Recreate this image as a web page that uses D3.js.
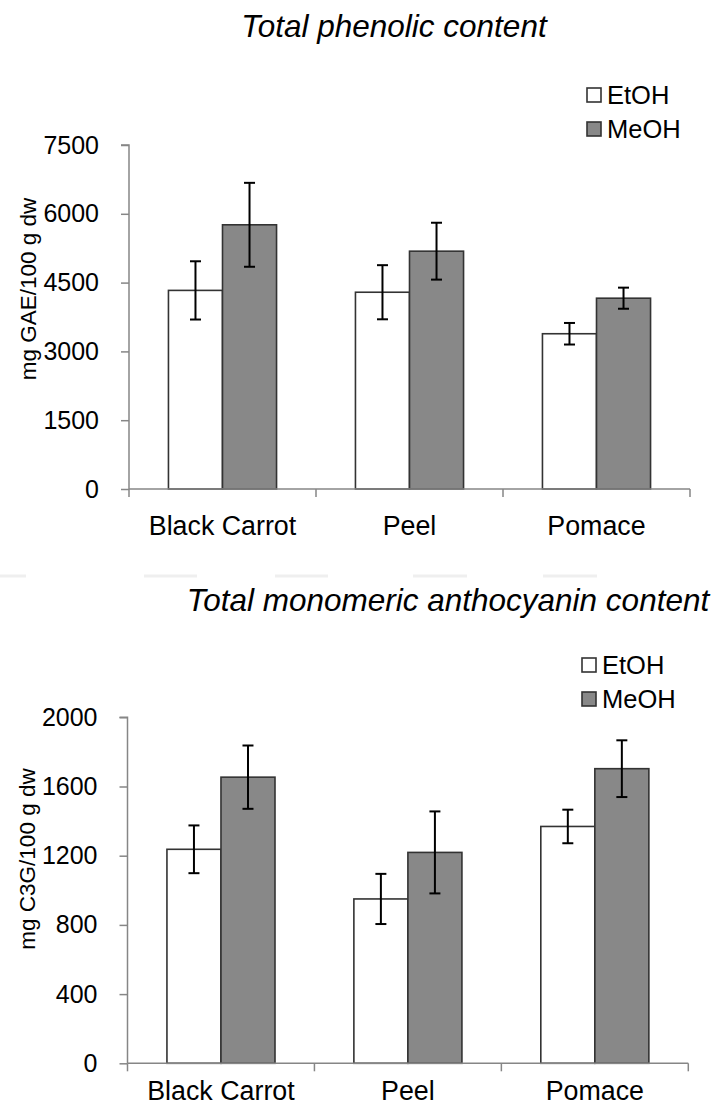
<!DOCTYPE html>
<html>
<head>
<meta charset="utf-8">
<script src="https://cdn.jsdelivr.net/npm/d3@7"></script>
<style>
  html, body { margin: 0; padding: 0; background: #fff; }
  svg { display: block; }
  text { font-family: "Liberation Sans", Arial, sans-serif; fill: #000; }
</style>
</head>
<body>
<svg id="chart" width="711" height="1108"></svg>
<script>
// ---- Data ----
const categories = ["Black Carrot", "Peel", "Pomace"];
const seriesNames = ["EtOH", "MeOH"];

// Total phenolic content (mg GAE/100 g dw)
const phenolicEtOH = [4330, 4290, 3385];
const phenolicMeOH = [5760, 5185, 4160];
const phenolicEtOHErr = [635, 590, 235];
const phenolicMeOHErr = [915, 620, 230];
const phenolicTicks = [0, 1500, 3000, 4500, 6000, 7500];

// Total monomeric anthocyanin content (mg C3G/100 g dw)
const anthoEtOH = [1237, 950, 1369];
const anthoMeOH = [1654, 1219, 1703];
const anthoEtOHErr = [138, 145, 97];
const anthoMeOHErr = [183, 237, 164];
const anthoTicks = [0, 400, 800, 1200, 1600, 2000];

const titles = ["Total phenolic content", "Total monomeric anthocyanin content"];
const yLabels = ["mg GAE/100 g dw", "mg C3G/100 g dw"];

// ---- Styles ----
const fills = { EtOH: "#ffffff", MeOH: "#888888" };
const axisColor = "#868686";
const barStroke = "#333333";

const svg = d3.select("#chart");

// faint separator segments between the two panels
const sepSegs = [[0, 26], [144, 197], [275, 328], [413, 467], [543, 597]];
svg.selectAll("line.sep").data(sepSegs).enter().append("line")
  .attr("x1", d => d[0]).attr("x2", d => d[1])
  .attr("y1", 576).attr("y2", 576)
  .attr("stroke", "#efefef").attr("stroke-width", 3);

function drawPanel(cfg) {
  const g = svg.append("g");
  const x = d3.scaleBand().domain(categories).range([cfg.x0, cfg.x1]).padding(0);
  const xs = d3.scaleBand().domain(seriesNames).range([0, x.bandwidth()])
    .paddingInner(0).paddingOuter(0.73);
  const y = d3.scaleLinear().domain([0, cfg.ticks[cfg.ticks.length - 1]]).range([cfg.y0, cfg.y1]);

  // title
  g.append("text").attr("x", cfg.titleX).attr("y", cfg.titleY)
    .attr("text-anchor", "middle").style("font-style", "italic")
    .style("font-size", "31.5px").text(cfg.title);

  // y label
  g.append("text")
    .attr("transform", `translate(${cfg.yLabelX},${cfg.yLabelY}) rotate(-90)`)
    .attr("text-anchor", "middle").attr("dy", "0.35em")
    .style("font-size", "22.5px").text(cfg.yLabel);

  // bars
  const rows = categories.map((c, i) => ({
    cat: c,
    vals: [
      { s: "EtOH", v: cfg.etoh[i], e: cfg.etohErr[i] },
      { s: "MeOH", v: cfg.meoh[i], e: cfg.meohErr[i] }
    ]
  }));
  const grp = g.selectAll("g.cat").data(rows).enter().append("g")
    .attr("transform", d => `translate(${x(d.cat)},0)`);
  grp.selectAll("rect").data(d => d.vals).enter().append("rect")
    .attr("x", d => xs(d.s)).attr("width", xs.bandwidth())
    .attr("y", d => y(d.v)).attr("height", d => y(0) - y(d.v))
    .attr("fill", d => fills[d.s]).attr("stroke", barStroke).attr("stroke-width", 1.6);

  // error bars
  const cap = 5.5;
  grp.selectAll("g.err").data(d => d.vals).enter().append("g").each(function (d) {
    const cx = xs(d.s) + xs.bandwidth() / 2;
    const e = d3.select(this);
    e.append("line").attr("x1", cx).attr("x2", cx).attr("y1", y(d.v + d.e)).attr("y2", y(d.v - d.e))
      .attr("stroke", "#000").attr("stroke-width", 2);
    e.append("line").attr("x1", cx - cap).attr("x2", cx + cap).attr("y1", y(d.v + d.e)).attr("y2", y(d.v + d.e))
      .attr("stroke", "#000").attr("stroke-width", 2);
    e.append("line").attr("x1", cx - cap).attr("x2", cx + cap).attr("y1", y(d.v - d.e)).attr("y2", y(d.v - d.e))
      .attr("stroke", "#000").attr("stroke-width", 2);
  });

  // y axis
  const yAxis = d3.axisLeft(y).tickValues(cfg.ticks).tickSize(8).tickPadding(22).tickFormat(d3.format("d"));
  const ya = g.append("g").attr("transform", `translate(${cfg.x0},0)`).call(yAxis);
  ya.select(".domain").attr("stroke", axisColor).attr("stroke-width", 1.5).attr("d", `M-8,${cfg.y1}H0V${cfg.y0}`);
  ya.selectAll(".tick line").attr("stroke", axisColor).attr("stroke-width", 1.5);
  ya.selectAll(".tick text").style("font-size", "25px").style("font-family", "Liberation Sans, Arial, sans-serif").attr("fill", "#000");

  // x axis with separator ticks at category boundaries
  const xa = g.append("g");
  xa.append("line").attr("x1", cfg.x0).attr("x2", cfg.x1).attr("y1", cfg.y0).attr("y2", cfg.y0)
    .attr("stroke", axisColor).attr("stroke-width", 1.5);
  const bounds = categories.map(c => x(c)).concat([cfg.x1]);
  xa.selectAll("line.xt").data(bounds).enter().append("line")
    .attr("x1", d => d).attr("x2", d => d).attr("y1", cfg.y0).attr("y2", cfg.y0 + 8)
    .attr("stroke", axisColor).attr("stroke-width", 1.5);
  xa.selectAll("text").data(categories).enter().append("text")
    .attr("x", d => x(d) + x.bandwidth() / 2).attr("y", cfg.xLabelY)
    .attr("text-anchor", "middle").style("font-size", "26.8px").text(d => d);

  // legend
  const lg = g.append("g");
  seriesNames.forEach((s, i) => {
    const cy = cfg.legY + i * 34;
    lg.append("rect").attr("x", cfg.legX).attr("y", cy - 7).attr("width", 14).attr("height", 14)
      .attr("fill", fills[s]).attr("stroke", barStroke).attr("stroke-width", 1.6);
    lg.append("text").attr("x", cfg.legX + 20).attr("y", cy).attr("dy", "0.35em")
      .style("font-size", "25.5px").text(s);
  });
}

drawPanel({
  title: titles[0], titleX: 394, titleY: 37,
  yLabel: yLabels[0], yLabelX: 28, yLabelY: 289,
  x0: 129, x1: 690, y0: 489, y1: 145, ticks: phenolicTicks,
  etoh: phenolicEtOH, meoh: phenolicMeOH, etohErr: phenolicEtOHErr, meohErr: phenolicMeOHErr,
  xLabelY: 535, legX: 587, legY: 95
});

drawPanel({
  title: titles[1], titleX: 448, titleY: 611,
  yLabel: yLabels[1], yLabelX: 27, yLabelY: 859,
  x0: 127.5, x1: 688.3, y0: 1063.3, y1: 717.3, ticks: anthoTicks,
  etoh: anthoEtOH, meoh: anthoMeOH, etohErr: anthoEtOHErr, meohErr: anthoMeOHErr,
  xLabelY: 1100, legX: 582, legY: 665
});
</script>
</body>
</html>
